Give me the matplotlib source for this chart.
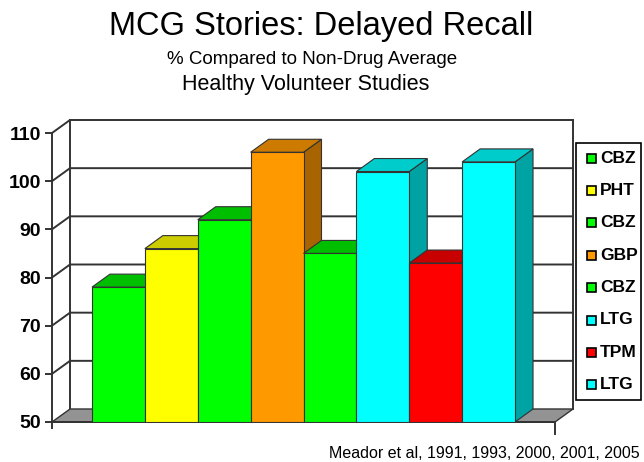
import matplotlib
matplotlib.use("Agg")
import matplotlib.pyplot as plt
from matplotlib.patches import Polygon, Rectangle

plt.rcParams['font.family'] = ['Liberation Sans', 'DejaVu Sans']

# -----------------------------
# Data
# -----------------------------
drugs = ["CBZ", "PHT", "CBZ", "GBP", "CBZ", "LTG", "TPM", "LTG"]
values = [78, 86, 92, 106, 85, 102, 83, 104]
yticks = [50, 60, 70, 80, 90, 100, 110]

# front, top, side shades per drug
SHADES = {
    "CBZ": ("#00FF00", "#00BF00", "#009F00"),
    "PHT": ("#FFFF00", "#CCCC00", "#A6A600"),
    "GBP": ("#FF9900", "#CC7A00", "#A86400"),
    "LTG": ("#00FFFF", "#00CCCC", "#00A3A3"),
    "TPM": ("#FF0000", "#C80000", "#A00000"),
}
EDGE = "#333333"

W, H = 644, 462
fig = plt.figure(figsize=(W / 100, H / 100), dpi=100)

# front plane of the plot box in pixels
left_px, right_px, bot_px, top_px = 52, 555, 422, 133
ax = fig.add_axes([left_px / W, 1 - bot_px / H,
                   (right_px - left_px) / W, (bot_px - top_px) / H])

x0, x1 = -1.256, len(values) - 1 + 1.256
ymin, ymax = 50, 110
ax.set_xlim(x0, x1)
ax.set_ylim(ymin, ymax)

# depth offset (data units)
px_x = (right_px - left_px) / (x1 - x0)
px_y = (bot_px - top_px) / (ymax - ymin)
dx = 18 / px_x
dy = 13 / px_y

# -----------------------------
# Walls, floor, gridlines
# -----------------------------
floor = Polygon([(x0, ymin), (x1, ymin), (x1 + dx, ymin + dy), (x0 + dx, ymin + dy)],
                closed=True, facecolor="#939393", edgecolor=EDGE, lw=1, zorder=2, clip_on=False)
ax.add_patch(floor)

for v in yticks[1:]:
    ax.plot([x0, x0 + dx, x1 + dx], [v, v + dy, v + dy], color=EDGE, lw=1.4,
            zorder=1, clip_on=False, solid_joinstyle='miter')
# back wall edges
ax.plot([x0 + dx, x0 + dx], [ymin + dy, ymax + dy], color=EDGE, lw=1.4, zorder=1, clip_on=False)
ax.plot([x1 + dx, x1 + dx], [ymin + dy, ymax + dy], color=EDGE, lw=1.4, zorder=1, clip_on=False)
# front floor edge + little end ticks
ax.plot([x0, x1], [ymin, ymin], color=EDGE, lw=1.4, zorder=3, clip_on=False)
ax.plot([x1, x1], [ymin, ymin - 2.5], color=EDGE, lw=1.4, zorder=3, clip_on=False)

# -----------------------------
# Bars
# -----------------------------
xs = list(range(len(values)))
bars = ax.bar(xs, [v - ymin for v in values], bottom=ymin, width=1.0,
              color=[SHADES[d][0] for d in drugs], edgecolor=EDGE, linewidth=0.8)
for i, (p, v, d) in enumerate(zip(bars, values, drugs)):
    p.set_zorder(10 + 3 * i + 2)
    l, r = xs[i] - 0.5, xs[i] + 0.5
    side = Polygon([(r, ymin), (r + dx, ymin + dy), (r + dx, v + dy), (r, v)],
                   closed=True, facecolor=SHADES[d][2], edgecolor=EDGE, lw=0.8,
                   zorder=10 + 3 * i, clip_on=False)
    top = Polygon([(l, v), (r, v), (r + dx, v + dy), (l + dx, v + dy)],
                  closed=True, facecolor=SHADES[d][1], edgecolor=EDGE, lw=0.8,
                  zorder=10 + 3 * i + 1, clip_on=False)
    ax.add_patch(side)
    ax.add_patch(top)

# -----------------------------
# Axes styling
# -----------------------------
for s in ["top", "right", "bottom"]:
    ax.spines[s].set_visible(False)
ax.spines["left"].set_color(EDGE)
ax.spines["left"].set_linewidth(1.4)
ax.spines["left"].set_bounds(ymin - 1.2, ymax)
ax.set_xticks([])
ax.set_yticks(yticks)
ax.set_yticklabels([str(t) for t in yticks], fontsize=14, fontweight="bold")
ax.tick_params(axis="y", direction="out", length=5, width=1.4, color=EDGE, pad=3)
ax.patch.set_visible(False)

# -----------------------------
# Legend (drawn by hand)
# -----------------------------
fig.add_artist(Rectangle((576 / W, 1 - 400 / H), (641 - 576) / W, (400 - 143) / H,
                         transform=fig.transFigure, facecolor="white",
                         edgecolor="black", lw=1.2, zorder=50))
for i, d in enumerate(drugs):
    yc = 158 + i * 32.4
    fig.add_artist(Rectangle((587 / W, 1 - (yc + 4.5) / H), 9 / W, 9 / H,
                             transform=fig.transFigure, facecolor=SHADES[d][0],
                             edgecolor="black", lw=1.2, zorder=51))
    fig.text(600 / W, 1 - yc / H, d, fontsize=12.5, fontweight="bold",
             ha="left", va="center", zorder=52)

# -----------------------------
# Titles
# -----------------------------
fig.text(321 / W, 1 - 27 / H, "MCG Stories: Delayed Recall", fontsize=23.5, ha="center", va="center")
fig.text(312 / W, 1 - 60 / H, "% Compared to Non-Drug Average", fontsize=13.5, ha="center", va="center")
fig.text(306 / W, 1 - 85 / H, "Healthy Volunteer Studies", fontsize=15.5, ha="center", va="center")
fig.text(640 / W, 1 - 454 / H, "Meador et al, 1991, 1993, 2000, 2001, 2005",
         fontsize=11.5, ha="right", va="center")

fig.savefig("out.png", dpi=100, facecolor="white")
